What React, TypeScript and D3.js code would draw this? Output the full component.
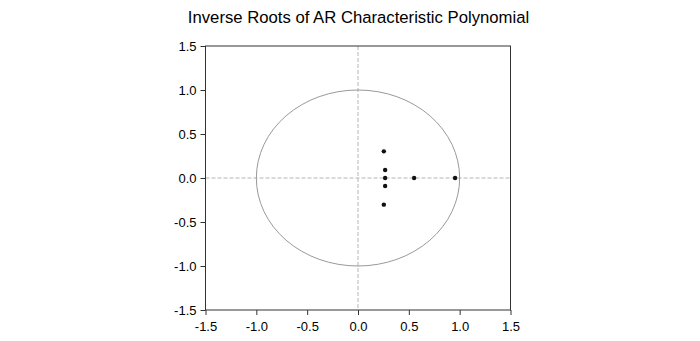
import { useEffect, useRef } from "react";
import * as d3 from "d3";

const WIDTH = 700;
const HEIGHT = 341;
const MARGIN = { top: 46, right: 189, bottom: 31, left: 206 };

const TITLE = "Inverse Roots of AR Characteristic Polynomial";
const TICKS = [-1.5, -1.0, -0.5, 0.0, 0.5, 1.0, 1.5];
const ROOT_RE = [0.254, 0.267, 0.267, 0.267, 0.254, 0.552, 0.955];
const ROOT_IM = [0.303, 0.091, 0.0, -0.091, -0.303, 0.0, 0.0];

const App = () => {
  const ref = useRef<SVGGElement | null>(null);
  const boundsWidth = WIDTH - MARGIN.left - MARGIN.right;
  const boundsHeight = HEIGHT - MARGIN.top - MARGIN.bottom;

  const xScale = d3.scaleLinear().domain([-1.5, 1.5]).range([0, boundsWidth]);
  const yScale = d3.scaleLinear().domain([-1.5, 1.5]).range([boundsHeight, 0]);

  useEffect(() => {
    const g = d3.select(ref.current);
    g.selectAll("*").remove();

    // zero lines
    g.append("line")
      .attr("x1", 0).attr("x2", boundsWidth)
      .attr("y1", yScale(0)).attr("y2", yScale(0))
      .attr("stroke", "#b5b5b5").attr("stroke-width", 1)
      .attr("stroke-dasharray", "4,2");
    g.append("line")
      .attr("x1", xScale(0)).attr("x2", xScale(0))
      .attr("y1", 0).attr("y2", boundsHeight)
      .attr("stroke", "#b5b5b5").attr("stroke-width", 1)
      .attr("stroke-dasharray", "4,2");

    // unit circle
    g.append("ellipse")
      .attr("cx", xScale(0)).attr("cy", yScale(0))
      .attr("rx", xScale(1) - xScale(0))
      .attr("ry", yScale(0) - yScale(1))
      .attr("fill", "none").attr("stroke", "#999").attr("stroke-width", 1);

    // roots
    g.selectAll(".root")
      .data(ROOT_RE.map((re, i) => [re, ROOT_IM[i]]))
      .enter().append("circle")
      .attr("class", "root")
      .attr("cx", (d) => xScale(d[0]))
      .attr("cy", (d) => yScale(d[1]))
      .attr("r", 2.2)
      .attr("fill", "#111");

    // frame
    g.append("rect")
      .attr("width", boundsWidth).attr("height", boundsHeight)
      .attr("fill", "none").attr("stroke", "#333").attr("stroke-width", 1);

    const fmt = (d: number) => d.toFixed(1);
    const xAxis = g.append("g")
      .attr("transform", `translate(0,${boundsHeight})`)
      .call(d3.axisBottom(xScale).tickValues(TICKS).tickFormat((d) => fmt(d as number)).tickSizeOuter(0).tickSize(5).tickPadding(4));
    const yAxis = g.append("g")
      .call(d3.axisLeft(yScale).tickValues(TICKS).tickFormat((d) => fmt(d as number)).tickSizeOuter(0).tickSize(5).tickPadding(4));

    [xAxis, yAxis].forEach((a) => {
      a.select(".domain").remove();
      a.selectAll("line").attr("stroke", "#333");
      a.selectAll("text")
        .attr("fill", "#000")
        .style("font-family", "'Liberation Sans', Arial, sans-serif")
        .style("font-size", "13px");
    });
    xAxis.selectAll("text").attr("dy", "0.9em");
  }, []);

  return (
    <svg
      width={WIDTH}
      height={HEIGHT}
      style={{ position: "absolute", left: 0, top: 0, background: "#fff" }}
    >
      <text
        x={MARGIN.left + boundsWidth / 2}
        y={23}
        textAnchor="middle"
        fontFamily="'Liberation Sans', Arial, sans-serif"
        fontSize={16.7}
        fill="#000"
      >
        {TITLE}
      </text>
      <g ref={ref} transform={`translate(${MARGIN.left - 0.5},${MARGIN.top})`} />
    </svg>
  );
};

export default App;
